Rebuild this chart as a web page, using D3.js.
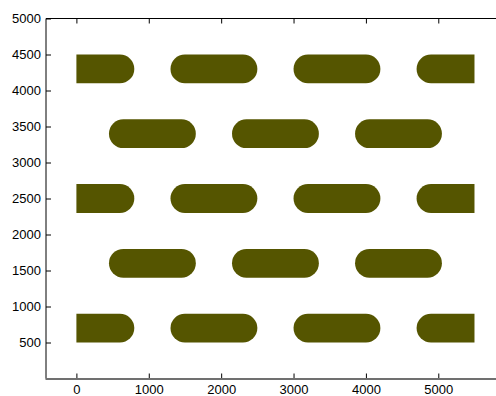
<!DOCTYPE html>
<html>
<head>
<meta charset="utf-8">
<script src="https://cdn.jsdelivr.net/npm/d3@7"></script>
<style>
  html, body { margin: 0; padding: 0; background: #fff; }
  svg { display: block; }
  text { font-family: "Liberation Sans", Arial, sans-serif; }
</style>
</head>
<body>
<svg id="chart" width="496" height="396"></svg>
<script>
// ---- data ----
const xTicks = [0, 1000, 2000, 3000, 4000, 5000];
const yTicks = [500, 1000, 1500, 2000, 2500, 3000, 3500, 4000, 4500, 5000];
const xLimits = [-420, 5800];
const yLimits = [0, 5000];
const clipRange = [0, 5500];          // region the stadium shapes are cut to
const rowCentersA = [700, 2500, 4300]; // rows with shapes starting at offset A
const rowCentersB = [1600, 3400];      // rows with shapes starting at offset B
const startsA = [-400, 1300, 3000, 4700];
const startsB = [450, 2150, 3850];
const shapeLength = 1200;
const shapeHeight = 400;

// ---- build shape list ----
const shapes = [];
rowCentersA.forEach(c => startsA.forEach(s => shapes.push({x0: s, x1: s + shapeLength, yc: c})));
rowCentersB.forEach(c => startsB.forEach(s => shapes.push({x0: s, x1: s + shapeLength, yc: c})));

const svg = d3.select("#chart");
const x = d3.scaleLinear().domain(xLimits).range([46, 496.2]);
const y = d3.scaleLinear().domain(yLimits).range([378.5, 18.5]);

const color = "#555500";

svg.append("defs").append("clipPath").attr("id", "clip")
  .append("rect")
  .attr("x", x(clipRange[0]))
  .attr("y", y(yLimits[1]))
  .attr("width", x(clipRange[1]) - x(clipRange[0]))
  .attr("height", y(yLimits[0]) - y(yLimits[1]));

const rx = x(shapeHeight / 2) - x(0);
const ry = y(0) - y(shapeHeight / 2);

svg.append("g").attr("clip-path", "url(#clip)")
  .selectAll("rect").data(shapes).join("rect")
  .attr("x", d => x(d.x0))
  .attr("width", d => x(d.x1) - x(d.x0))
  .attr("y", d => y(d.yc + shapeHeight / 2))
  .attr("height", d => y(d.yc - shapeHeight / 2) - y(d.yc + shapeHeight / 2))
  .attr("rx", rx).attr("ry", ry)
  .attr("fill", color);

// ---- axes ----
const fmt = d3.format("d");
const gx = svg.append("g").attr("transform", `translate(0,${y(0)})`)
  .call(d3.axisBottom(x).tickValues(xTicks).tickSize(-5).tickPadding(6).tickFormat(fmt));
const gxt = svg.append("g").attr("transform", `translate(0,${y(5000)})`)
  .call(d3.axisTop(x).tickValues(xTicks).tickSize(-5).tickFormat(""));
const gy = svg.append("g").attr("transform", `translate(${x(xLimits[0])},0)`)
  .call(d3.axisLeft(y).tickValues(yTicks).tickSize(-5).tickPadding(5).tickFormat(fmt));

[gx, gxt, gy].forEach(g => {
  g.select(".domain").remove();
  g.selectAll(".tick line").attr("stroke", "#000").attr("stroke-width", 1);
  g.selectAll(".tick text").attr("fill", "#000").style("font-size", "13px")
    .style("font-family", '"Liberation Sans", Arial, sans-serif');
});

// frame lines
svg.append("line").attr("x1", x(xLimits[0])).attr("x2", 496).attr("y1", y(5000)).attr("y2", y(5000))
  .attr("stroke", "#000").attr("stroke-width", 1);
svg.append("line").attr("x1", x(xLimits[0])).attr("x2", x(xLimits[0])).attr("y1", y(5000)).attr("y2", y(0))
  .attr("stroke", "#000").attr("stroke-width", 1);
svg.append("line").attr("x1", x(xLimits[0]) - 0.5).attr("x2", 496).attr("y1", y(0) + 0.5).attr("y2", y(0) + 0.5)
  .attr("stroke", "#707070").attr("stroke-width", 2);
</script>
</body>
</html>
